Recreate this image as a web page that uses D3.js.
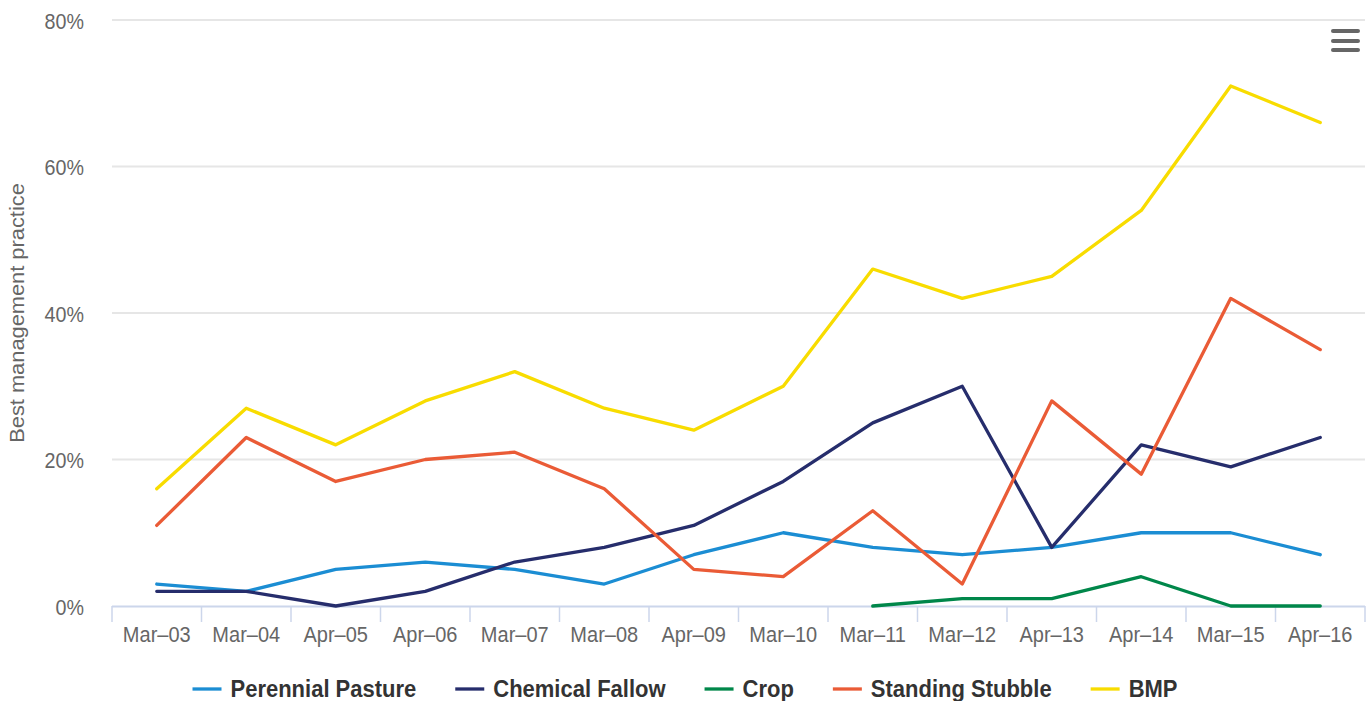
<!DOCTYPE html>
<html>
<head>
<meta charset="utf-8">
<script src="https://cdn.jsdelivr.net/npm/d3@7"></script>
<style>
  html, body { margin: 0; padding: 0; background: #fff; }
  svg { display: block; font-family: "Liberation Sans", Arial, Helvetica, sans-serif; }
</style>
</head>
<body>
<svg id="chart" width="1370" height="701"></svg>
<script>
const categories = ["Mar–03","Mar–04","Apr–05","Apr–06","Mar–07","Mar–08","Apr–09","Mar–10","Mar–11","Mar–12","Apr–13","Apr–14","Mar–15","Apr–16"];
const perennialPasture = [3, 2, 5, 6, 5, 3, 7, 10, 8, 7, 8, 10, 10, 7];
const chemicalFallow   = [2, 2, 0, 2, 6, 8, 11, 17, 25, 30, 8, 22, 19, 23];
const crop             = [null, null, null, null, null, null, null, null, 0, 1, 1, 4, 0, 0];
const standingStubble  = [11, 23, 17, 20, 21, 16, 5, 4, 13, 3, 28, 18, 42, 35];
const bmp              = [16, 27, 22, 28, 32, 27, 24, 30, 46, 42, 45, 54, 71, 66];
const yTicks = [0, 20, 40, 60, 80];
const seriesNames = ["Perennial Pasture", "Chemical Fallow", "Crop", "Standing Stubble", "BMP"];
const seriesColors = ["#1b8dd3", "#262d6c", "#00874a", "#ea5b36", "#f8dc00"];
const seriesData = [perennialPasture, chemicalFallow, crop, standingStubble, bmp];

const SY = 1.12; // vertical stretch of text
const svg = d3.select("#chart");
const plot = { left: 112, right: 1365, top: 20, bottom: 606 };

const x = d3.scaleBand().domain(categories).range([plot.left, plot.right]).padding(0);
const y = d3.scaleLinear().domain([0, 80]).range([plot.bottom, plot.top]);

// gridlines
svg.append("g").selectAll("line").data(yTicks.filter(d => d > 0)).join("line")
  .attr("x1", plot.left).attr("x2", plot.right)
  .attr("y1", d => y(d)).attr("y2", d => y(d))
  .attr("stroke", "#e6e6e6").attr("stroke-width", 2);

// y axis labels
const yAxis = d3.axisLeft(y).tickValues(yTicks).tickFormat(d => d + "%").tickSize(0).tickPadding(0);
const gy = svg.append("g").attr("transform", `translate(${plot.left - 28},0)`).call(yAxis);
gy.select(".domain").remove();
gy.selectAll("text").attr("fill", "#666666").attr("font-size", "19.7px")
  .attr("font-family", '"Liberation Sans", Arial, sans-serif')
  .attr("x", 0).attr("dy", 0).attr("y", 0)
  .attr("transform", `translate(0,8) scale(1,${SY})`);

// x axis
const xAxis = d3.axisBottom(x).tickSize(0).tickPadding(0);
const gx = svg.append("g").attr("transform", `translate(0,${plot.bottom})`).call(xAxis);
gx.select(".domain").remove();
gx.selectAll("text").attr("fill", "#666666").attr("font-size", "20px")
  .attr("font-family", '"Liberation Sans", Arial, sans-serif')
  .attr("y", 0).attr("dy", 0)
  .attr("transform", `translate(0,36) scale(1,${SY})`);
svg.append("line").attr("x1", plot.left).attr("x2", plot.right)
  .attr("y1", plot.bottom + 0.5).attr("y2", plot.bottom + 0.5)
  .attr("stroke", "#ccd6eb").attr("stroke-width", 2);
const boundaries = categories.map(c => x(c)).concat([plot.right]);
svg.append("g").selectAll("line").data(boundaries).join("line")
  .attr("x1", d => d).attr("x2", d => d)
  .attr("y1", plot.bottom).attr("y2", plot.bottom + 16)
  .attr("stroke", "#ccd6eb").attr("stroke-width", 1.5);

// y axis title
svg.append("text")
  .attr("transform", `translate(24,${(plot.top + plot.bottom) / 2}) rotate(-90) scale(${SY},1)`)
  .attr("text-anchor", "middle").attr("fill", "#666666").attr("font-size", "19.5px")
  .text("Best management practice");

// lines
const line = d3.line()
  .defined(d => d != null)
  .x((d, i) => x(categories[i]) + x.bandwidth() / 2)
  .y(d => y(d));
seriesData.forEach((data, k) => {
  svg.append("path").datum(data)
    .attr("d", line)
    .attr("fill", "none")
    .attr("stroke", seriesColors[k])
    .attr("stroke-width", 3.3)
    .attr("stroke-linejoin", "round")
    .attr("stroke-linecap", "round");
});

// legend
const legend = svg.append("g");
let cursor = 0;
seriesNames.forEach((name, k) => {
  const g = legend.append("g");
  g.append("line").attr("x1", cursor).attr("x2", cursor + 29).attr("y1", 0).attr("y2", 0)
    .attr("stroke", seriesColors[k]).attr("stroke-width", 3.3);
  const t = g.append("text")
    .attr("transform", `translate(${cursor + 38},8) scale(1,${SY})`)
    .attr("font-size", "22px").attr("font-weight", "bold").attr("fill", "#333333").text(name);
  const w = t.node().getComputedTextLength();
  cursor += 38 + w + 39;
});
const totalW = cursor - 39;
legend.attr("transform", `translate(${685 - totalW / 2},689)`);

// menu icon
const menu = svg.append("g");
[31, 41, 50].forEach(yy => {
  menu.append("line").attr("x1", 1333).attr("x2", 1358).attr("y1", yy).attr("y2", yy)
    .attr("stroke", "#666666").attr("stroke-width", 4).attr("stroke-linecap", "round");
});
</script>
</body>
</html>
